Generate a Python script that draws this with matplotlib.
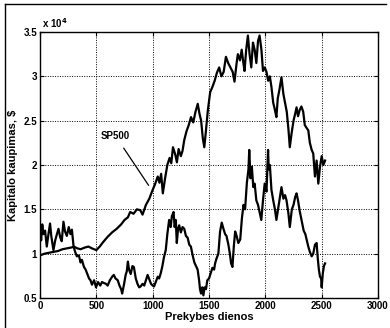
import matplotlib.pyplot as plt
from matplotlib.lines import Line2D

plt.rcParams['font.family'] = ['Liberation Sans', 'DejaVu Sans']
plt.rcParams['font.weight'] = 'bold'

# SP500 index, capital in units of 1e4 $
sp_days = [0, 40, 80, 120, 160, 200, 240, 280, 300, 330, 360, 400, 430, 460, 500,
           530, 560, 600, 640, 680, 720, 750, 780, 800, 830, 860, 890, 910, 940, 970,
           1000, 1020, 1045, 1060, 1075, 1090, 1110, 1130, 1150, 1165, 1180, 1200,
           1215, 1230, 1250, 1265, 1280, 1300, 1320, 1340, 1360, 1380, 1400, 1415,
           1430, 1445, 1458, 1470, 1490, 1510, 1530, 1550, 1570, 1590, 1610, 1630,
           1650, 1670, 1690, 1710, 1726, 1745, 1756, 1775, 1790, 1805, 1815, 1830,
           1845, 1860, 1875, 1890, 1905, 1920, 1935, 1949, 1965, 1979, 1995, 2010,
           2025, 2040, 2054, 2070, 2085, 2098, 2110, 2125, 2143, 2160, 2175, 2190,
           2205, 2217, 2232, 2250, 2265, 2277, 2290, 2305, 2320, 2336, 2350, 2365,
           2381, 2395, 2411, 2425, 2440, 2455, 2470, 2485, 2500, 2515, 2530]
sp_vals = [0.98, 1.00, 1.01, 1.02, 1.03, 1.05, 1.06, 1.07, 1.08, 1.06, 1.05, 1.07, 1.08, 1.06, 1.04,
           1.08, 1.13, 1.19, 1.24, 1.28, 1.33, 1.38, 1.41, 1.47, 1.45, 1.50, 1.49, 1.44, 1.55, 1.62,
           1.72, 1.78, 1.87, 1.80, 1.90, 1.68, 1.85, 2.00, 2.08, 2.02, 2.20, 2.12,
           2.03, 2.18, 2.10, 2.16, 2.28, 2.38, 2.45, 2.54, 2.48, 2.60, 2.69, 2.58,
           2.50, 2.30, 2.20, 2.35, 2.62, 2.82, 2.88, 2.95, 3.04, 3.10, 3.00, 3.05,
           3.22, 3.15, 3.10, 3.05, 2.94, 3.15, 3.25, 3.18, 3.30, 3.15, 3.06, 3.30,
           3.46, 3.25, 3.10, 3.38, 3.30, 3.15, 3.40, 3.46, 3.30, 3.06, 3.10, 3.05,
           2.95, 3.00, 2.88, 2.70, 2.62, 2.54, 2.75, 2.85, 2.99, 2.80, 2.70, 2.60,
           2.40, 2.20, 2.35, 2.50, 2.58, 2.65, 2.55, 2.62, 2.66, 2.60, 2.45, 2.42,
           2.39, 2.25, 2.17, 2.13, 1.87, 2.05, 1.79, 1.98, 2.10, 2.00, 2.05]

# trading strategy, capital in units of 1e4 $
st_days = [0, 10, 20, 30, 45, 60, 75, 89, 100, 119, 135, 150, 164, 180, 193, 208, 222, 238,
           255, 270, 283, 298, 312, 327, 345, 360, 372, 390, 405, 417, 435, 448, 461, 480,
           497, 515, 535, 550, 565, 585, 600, 620, 640, 655, 670, 690, 705, 720, 729, 745,
           760, 770, 780, 790, 805, 820, 833, 850, 865, 880, 893, 910, 925, 940, 955, 967,
           985, 1000, 1012, 1030, 1045, 1057, 1072, 1086, 1100, 1116, 1130, 1146, 1160,
           1170, 1185, 1195, 1205, 1214, 1225, 1235, 1250, 1265, 1280, 1295, 1310, 1325,
           1339, 1355, 1370, 1385, 1399, 1412, 1420, 1429, 1440, 1450, 1460, 1473, 1485,
           1500, 1515, 1530, 1545, 1554, 1565, 1583, 1598, 1613, 1628, 1643, 1655, 1672,
           1685, 1696, 1708, 1720, 1732, 1745, 1760, 1777, 1792, 1806, 1820, 1836, 1850,
           1857, 1868, 1880, 1893, 1905, 1920, 1935, 1950, 1964, 1979, 1994, 2010, 2024,
           2030, 2040, 2054, 2070, 2085, 2098, 2115, 2130, 2143, 2160, 2175, 2188, 2205,
           2217, 2235, 2250, 2265, 2277, 2290, 2305, 2321, 2340, 2355, 2368, 2381, 2395,
           2411, 2425, 2440, 2455, 2465, 2475, 2485, 2495, 2500, 2510, 2520, 2530]
st_vals = [1.30, 1.15, 1.33, 1.22, 1.26, 1.08, 1.22, 1.34, 1.20, 1.04, 1.15, 1.22, 1.28, 1.18, 1.14, 1.36, 1.25, 1.20,
           1.30, 1.22, 1.27, 1.08, 1.02, 0.97, 0.98, 0.90, 0.93, 0.85, 0.82, 0.78, 0.72, 0.70, 0.65, 0.70,
           0.62, 0.68, 0.64, 0.68, 0.67, 0.66, 0.64, 0.70, 0.74, 0.76, 0.72, 0.70, 0.64, 0.60, 0.55, 0.65,
           0.76, 0.80, 0.91, 0.82, 0.77, 0.86, 0.85, 0.72, 0.66, 0.62, 0.63, 0.66, 0.64, 0.70, 0.76, 0.72,
           0.66, 0.64, 0.63, 0.69, 0.74, 0.72, 0.78, 0.86, 0.96, 1.04, 1.22, 1.38, 1.30,
           1.42, 1.47, 1.30, 1.38, 1.12, 1.28, 1.32, 1.24, 1.30, 1.28, 1.20, 1.18, 1.10,
           1.08, 0.98, 0.90, 0.86, 0.82, 0.70, 0.60, 0.55, 0.62, 0.53, 0.62, 0.60, 0.70,
           0.72, 0.78, 0.84, 0.82, 0.89, 0.94, 1.00, 1.25, 1.35, 1.28, 1.22, 1.20, 1.10,
           1.00, 0.89, 0.85, 1.08, 1.25, 1.20, 1.12, 1.16, 1.40, 1.55, 1.50, 1.80, 1.95,
           2.17, 1.85, 1.98, 1.75, 1.79, 1.60, 1.55, 1.46, 1.38, 1.60, 1.79, 1.70, 2.17,
           1.95, 2.00, 1.72, 1.60, 1.50, 1.38, 1.52, 1.65, 1.75, 1.62, 1.66, 1.60, 1.45,
           1.30, 1.50, 1.55, 1.64, 1.68, 1.60, 1.48, 1.38, 1.26, 1.22, 1.15, 1.08, 1.02,
           0.97, 1.00, 1.10, 1.12, 0.95, 0.82, 0.74, 0.72, 0.62, 0.78, 0.86, 0.89]

x_ticks = [0, 500, 1000, 1500, 2000, 2500, 3000]
y_ticks = [0.5, 1, 1.5, 2, 2.5, 3, 3.5]
y_ticklabels = ['0.5', '1', '1.5', '2', '2.5', '3', '3.5']

fig = plt.figure(figsize=(3.9, 3.28), dpi=100)
ax = fig.add_axes([0.1026, 0.0915, 0.8667, 0.811])

ax.plot(sp_days, sp_vals, color='black', lw=1.6)
ax.plot(st_days, st_vals, color='black', lw=1.6)

ax.set_xlim(0, 3000)
ax.set_ylim(0.5, 3.5)
ax.set_xticks(x_ticks)
ax.set_yticks(y_ticks)
ax.set_yticklabels(y_ticklabels)
ax.tick_params(direction='in', length=3, width=0.8, labelsize=7, top=True, right=True, pad=2)
ax.grid(True, color='black', linestyle=(0, (1, 1.5)), linewidth=0.7)
for sp in ax.spines.values():
    sp.set_linewidth(1.0)

ax.set_xlabel('Prekybes dienos', fontsize=8, fontweight='bold', labelpad=1)
ax.set_ylabel('Kapitalo kaupimas, $', fontsize=8, fontweight='bold', labelpad=4)
ax.text(0.005, 1.008, 'x 10$^{4}$', transform=ax.transAxes, fontsize=7,
        fontweight='bold', va='bottom', ha='left')

ax.annotate('SP500', xy=(964, 1.77), xytext=(540, 2.33), fontsize=7, fontweight='bold',
            ha='left', va='center',
            arrowprops=dict(arrowstyle='-', color='black', lw=0.9, shrinkA=4, shrinkB=0))

# frame lines around the figure
fig.add_artist(Line2D([0.013, 0.013], [0.0, 0.988], color='black', lw=1.0))
fig.add_artist(Line2D([0.013, 0.99], [0.988, 0.988], color='black', lw=1.0))

fig.savefig('out.png', dpi=100)
